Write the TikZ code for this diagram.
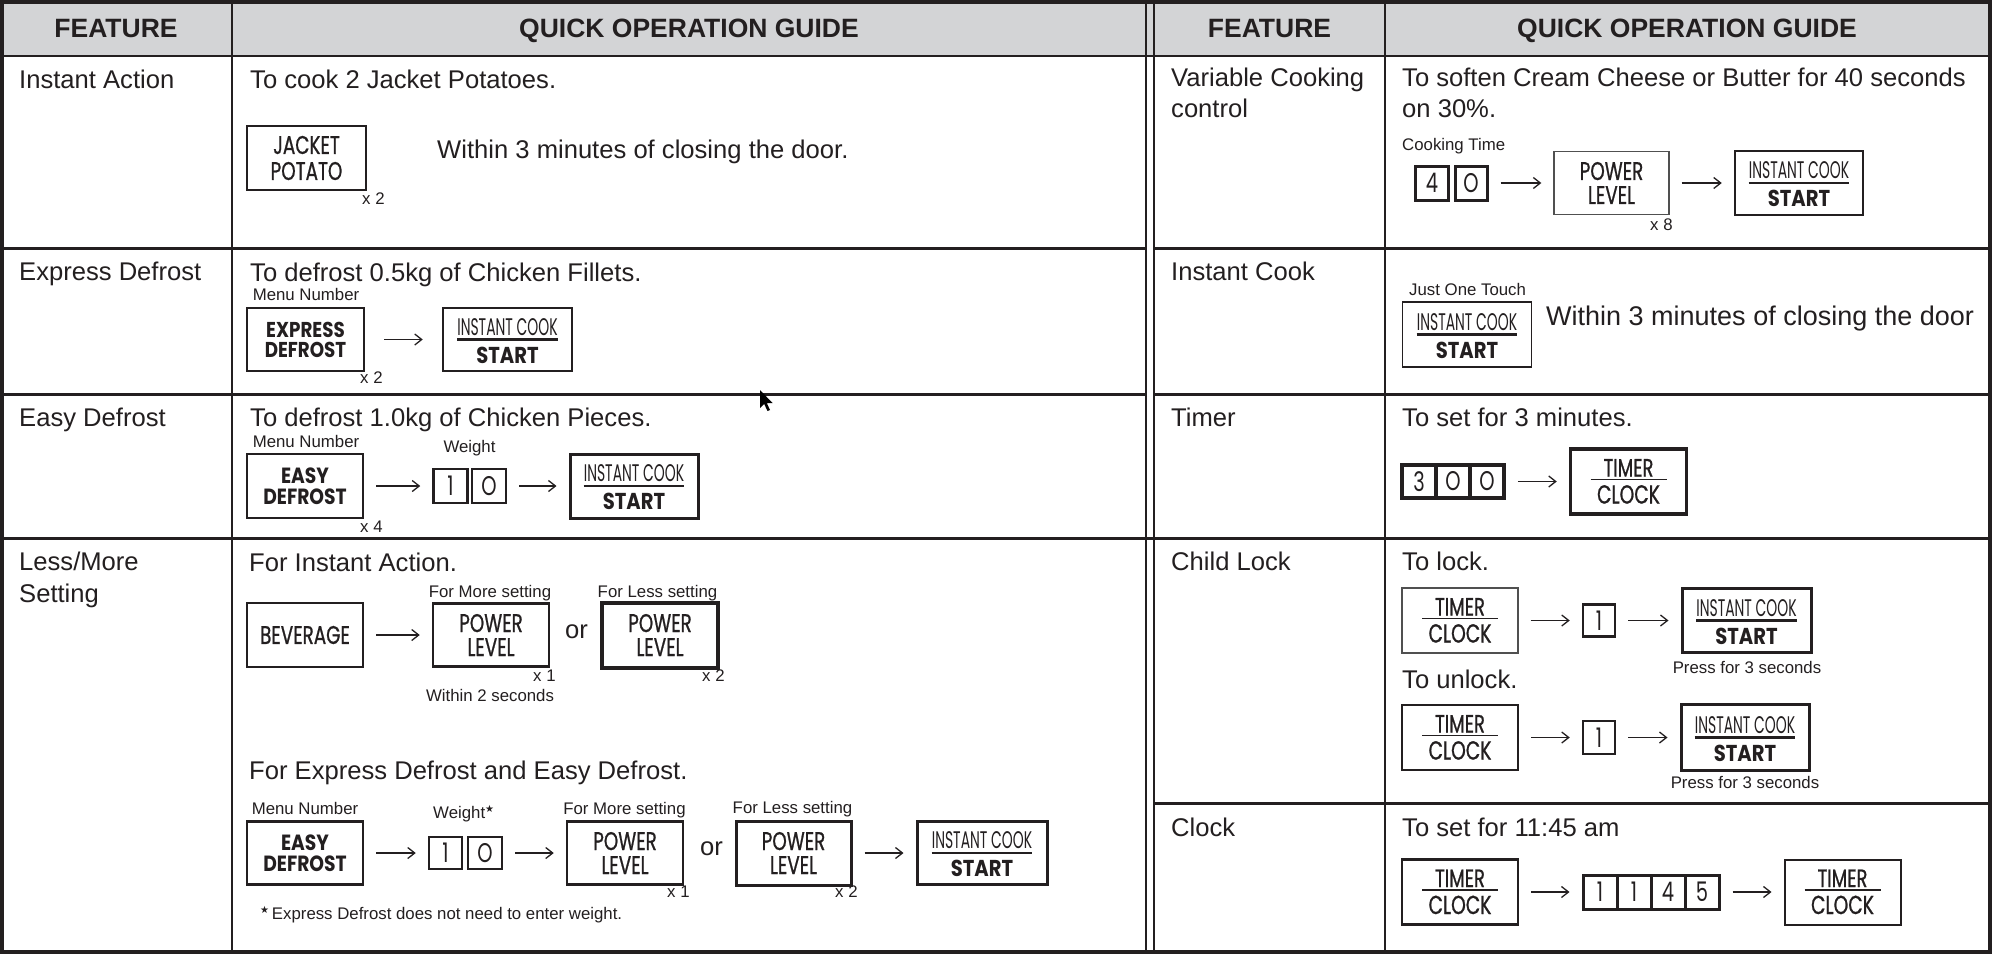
\documentclass[tikz,border=0pt]{standalone}
\usepackage{fontspec}
\setmainfont{Liberation Sans}
\newfontfamily\btnfont[FakeStretch=0.72]{Poppins}
\newfontfamily\btnmfont[FakeStretch=0.72,FakeBold=0.8]{Poppins}
\newfontfamily\btnbfont[FakeStretch=0.85]{Poppins}
\newfontfamily\icfont[FakeStretch=0.58]{Poppins}
\newfontfamily\symfont{DejaVu Sans}
\usetikzlibrary{arrows.meta,calc}
\definecolor{ink}{HTML}{231F20}
\definecolor{hdr}{HTML}{D3D4D6}
\definecolor{thinc}{HTML}{505050}
\tikzset{
 body/.style={anchor=base west, inner sep=0pt, text=ink, font=\fontsize{25.6}{30}\selectfont},
 small/.style={anchor=base, inner sep=0pt, text=ink, font=\fontsize{16.8}{19}\selectfont},
 smallw/.style={small, anchor=base west},
 head/.style={anchor=base, inner sep=0pt, text=ink, font=\fontsize{26.5}{30}\selectfont\bfseries},
 grid/.style={draw=ink, line width=2.5pt},
 box/.style={draw=ink, line width=2.5pt, inner sep=0pt, text=ink, align=center},
 sz/.style 2 args={minimum width=#1pt, minimum height=#2pt},
 reg/.style={font=\btnmfont\fontsize{25.5}{#1}\selectfont},
 bld/.style={font=\btnbfont\bfseries\fontsize{21.5}{#1}\selectfont},
 dig/.style={box, sz={34}{34}, font=\btnfont\fontsize{27}{27}\selectfont},
 arr/.style={draw=ink, line width=1.3pt, -{Straight Barb[length=7pt,width=11pt]}, shorten <=12pt, shorten >=12pt},
}
\newcommand{\icbtn}[6]{% name, x, y, line width, width, height
  \node[box, sz={#5}{#6}, line width=#4] (#1) at (#2,#3) {};
  \node[anchor=base, inner sep=0pt, text=ink, font=\icfont\fontsize{24}{24}\selectfont] (#1a) at ([yshift=4.5pt]#1.center) {INSTANT COOK};
  \node[anchor=base, inner sep=0pt, text=ink, font=\btnbfont\bfseries\fontsize{23}{23}\selectfont] (#1b) at ([yshift=-23.5pt]#1.center) {START};
  \draw[ink, line width=2.5pt] (#1a.west |- #1.center) -- (#1a.east |- #1.center);
}
\newcommand{\tcbtn}[5]{% name, x, y, line width, colour
  \node[box, sz={116}{65}, line width=#4, draw=#5] (#1) at (#2,#3) {};
  \node[anchor=base, inner sep=0pt, text=ink, font=\btnmfont\fontsize{25}{25}\selectfont] (#1a) at ([yshift=5pt]#1.center) {TIMER};
  \node[anchor=base, inner sep=0pt, text=ink, font=\btnmfont\fontsize{26}{26}\selectfont] (#1b) at ([yshift=-22pt]#1.center) {CLOCK};
  \draw[ink, line width=1.2pt] ([xshift=-38pt,yshift=2pt]#1.center) -- ([xshift=38pt,yshift=2pt]#1.center);
}
\newcommand{\sstar}{{\symfont\fontsize{10}{10}\selectfont\raisebox{6pt}{★}}}
\begin{document}
\begin{tikzpicture}[x=1pt,y=-1pt]
\useasboundingbox (0,0) rectangle (1992,954);
\fill[white] (0,0) rectangle (1992,954);
% header
\fill[hdr] (0,0) rectangle (1992,56);
\node[head] (h1) at (116,37) {FEATURE};
\node[head] (h2) at (689,37) {QUICK OPERATION GUIDE};
\node[head] (h3) at (1269.5,37) {FEATURE};
\node[head] (h4) at (1687,37) {QUICK OPERATION GUIDE};
% grid
\draw[grid] (0,56) -- (1992,56);
\draw[grid] (232,0) -- (232,954);
\draw[grid] (1146,0) -- (1146,954);
\draw[grid] (1154,0) -- (1154,954);
\draw[grid] (1385,0) -- (1385,954);
\draw[grid] (0,248.5) -- (1146,248.5);
\draw[grid] (0,394.5) -- (1146,394.5);
\draw[grid] (0,538.5) -- (1992,538.5);
\draw[grid] (1154,248.5) -- (1992,248.5);
\draw[grid] (1154,394.5) -- (1992,394.5);
\draw[grid] (1154,803.5) -- (1992,803.5);
\draw[ink, line width=4pt] (2,2) rectangle (1990,952);
% feature names
\node[body] (f1) at (19,88) {Instant Action};
\node[body] (f2) at (19,280) {Express Defrost};
\node[body] (f3) at (19,426) {Easy Defrost};
\node[body] (f4) at (19,570) {Less/More};
\node[body] (f4b) at (19,602.5) {Setting};
\node[body] (g1) at (1171,86) {Variable Cooking};
\node[body] (g1b) at (1171,117) {control};
\node[body] (g2) at (1171,280) {Instant Cook};
\node[body] (g3) at (1171,426) {Timer};
\node[body] (g4) at (1171,570) {Child Lock};
\node[body] (g5) at (1171,836) {Clock};
% ---- Instant Action
\node[body] (t1) at (250,88) {To cook 2 Jacket Potatoes.};
\node[box, sz={119}{64}, line width=2pt, reg=26] (jp) at (306.5,158) {JACKET\\POTATO};
\node[smallw] (jpx) at (362,204) {x 2};
\node[body] (t1b) at (437,158) {Within 3 minutes of closing the door.};
% ---- Express Defrost
\node[body] (t2) at (250,281) {To defrost 0.5kg of Chicken Fillets.};
\node[small] (mn1) at (306,300) {Menu Number};
\node[box, sz={117}{63}, bld=20] (ed) at (305.5,339.5) {EXPRESS\\DEFROST};
\node[smallw] (edx) at (360,383) {x 2};
\icbtn{ic1}{507.5}{339.5}{2.5pt}{129}{63}
\draw[arr, shorten <=19pt, shorten >=19pt] (ed.east) -- (ic1.west);
% ---- Easy Defrost
\node[body] (t3) at (250,426) {To defrost 1.0kg of Chicken Pieces.};
\node[small] (mn2) at (306,447) {Menu Number};
\node[small] (wt1) at (469.5,452) {Weight};
\node[box, sz={116}{64}, font=\btnbfont\bfseries\fontsize{22}{21}\selectfont] (ez) at (305,486) {EASY\\DEFROST};
\node[smallw] (ezx) at (360,532) {x 4};
\node[dig] (e1) at (450.5,486) {1};
\node[dig] (e2) at (489,486) {O};
\icbtn{ic2}{634}{486}{3pt}{128}{64}
\draw[arr] (ez.east) -- (e1.west);
\draw[arr] (e2.east) -- (ic2.west);
% ---- Less/More: instant action
\node[body] (t4) at (249,571) {For Instant Action.};
\node[box, sz={116}{64}, reg=26] (bv) at (305,635) {BEVERAGE};
\node[small] (fm1) at (490,597) {For More setting};
\node[box, sz={116}{63}, reg=24] (pl1) at (491,635) {POWER\\LEVEL};
\node[body] (or1) at (565,638) {or};
\node[small] (fl1) at (657.5,597) {For Less setting};
\node[box, sz={116}{65}, line width=4pt, reg=24] (pl2) at (660,635) {POWER\\LEVEL};
\node[smallw] (pl1x) at (533,681) {x 1};
\node[smallw] (pl2x) at (702,681) {x 2};
\node[small] (w2s) at (490,701) {Within 2 seconds};
\draw[arr] (bv.east) -- (pl1.west);
% ---- Less/More: defrost
\node[body] (t5) at (249,779) {For Express Defrost and Easy Defrost.};
\node[small] (mn3) at (305,814) {Menu Number};
\node[smallw] (wt2) at (433,818) {Weight\sstar};
\node[box, sz={116}{63}, font=\btnbfont\bfseries\fontsize{22}{21}\selectfont] (ez2) at (305,853) {EASY\\DEFROST};
\node[dig, sz={33}{32}] (k1) at (445.5,853) {1};
\node[dig, sz={34}{32}] (k2) at (485,853) {O};
\node[small] (fm2) at (624.5,814) {For More setting};
\node[box, sz={116}{63}, reg=24] (pl3) at (625,853) {POWER\\LEVEL};
\node[smallw] (pl3x) at (667,897) {x 1};
\node[body] (or2) at (700,855) {or};
\node[small] (fl2) at (792.5,813) {For Less setting};
\node[box, sz={115}{64}, line width=3pt, reg=24] (pl4) at (793.5,853) {POWER\\LEVEL};
\node[smallw] (pl4x) at (835,897) {x 2};
\icbtn{ic3}{982}{853}{3pt}{130}{63}
\draw[arr] (ez2.east) -- (k1.west);
\draw[arr] (k2.east) -- (pl3.west);
\draw[arr] (pl4.east) -- (ic3.west);
\node[smallw] (fn) at (260,919) {\sstar\,Express Defrost does not need to enter weight.};
% cursor
\fill[black] (760,390) -- (760,408) -- (764.2,404) -- (767.5,411) -- (770,410) -- (766.8,403) -- (772.5,403) -- cycle;
% ---- Variable Cooking
\node[body] (u1) at (1402,86) {To soften Cream Cheese or Butter for 40 seconds};
\node[body] (u1b) at (1402,117) {on 30\%.};
\node[smallw] (ct) at (1402,150) {Cooking Time};
\node[dig, sz={33}{34}, line width=3pt] (v1) at (1432,183) {4};
\node[dig, sz={32}{34}, line width=3pt] (v2) at (1471,183) {O};
\node[box, sz={115}{63}, line width=1.3pt, draw=thinc, reg=24] (pl5) at (1611.5,183) {POWER\\LEVEL};
\node[smallw] (pl5x) at (1650,230) {x 8};
\icbtn{ic4}{1799}{183}{2.5pt}{128}{64}
\draw[arr] (v2.east) -- (pl5.west);
\draw[arr] (pl5.east) -- (ic4.west);
% ---- Instant Cook
\node[smallw] (jot) at (1409,295) {Just One Touch};
\icbtn{ic5}{1467}{334.5}{1.3pt}{128.5}{65}
\node[body, font=\fontsize{27}{30}\selectfont] (u2) at (1546,325) {Within 3 minutes of closing the door};
% ---- Timer
\node[body] (u3) at (1402,426) {To set for 3 minutes.};
\node[dig, sz={34}{33}, line width=3.5pt] (m1) at (1419,481.5) {3};
\node[dig, sz={34}{33}, line width=3.5pt] (m2) at (1453,481.5) {O};
\node[dig, sz={34}{33}, line width=3.5pt] (m3) at (1487,481.5) {O};
\tcbtn{tc1}{1628.5}{481.5}{3.5pt}{ink}
\draw[arr] (m3.east) -- (tc1.west);
% ---- Child Lock
\node[body] (u4) at (1402,570) {To lock.};
\tcbtn{tc2}{1460}{620.5}{1.3pt}{thinc}
\node[dig, sz={32}{32}] (c1) at (1599,620.5) {1};
\icbtn{ic6}{1746.5}{620.5}{3pt}{129}{64}
\node[small] (p3a) at (1747,673.5) {Press for 3 seconds};
\draw[arr] (tc2.east) -- (c1.west);
\draw[arr] (c1.east) -- (ic6.west);
\node[body] (u5) at (1402,688.6) {To unlock.};
\tcbtn{tc3}{1460}{737.5}{2pt}{ink}
\node[dig, sz={32}{33}] (c2) at (1599,737.5) {1};
\icbtn{ic7}{1745}{737.5}{3pt}{128}{66}
\node[small] (p3b) at (1745,788.6) {Press for 3 seconds};
\draw[arr] (tc3.east) -- (c2.west);
\draw[arr] (c2.east) -- (ic7.west);
% ---- Clock
\node[body] (u6) at (1402,836) {To set for 11:45 am};
\tcbtn{tc4}{1460}{892}{2.5pt}{ink}
\node[dig, line width=3pt] (n1) at (1600,892) {1};
\node[dig, line width=3pt] (n2) at (1634,892) {1};
\node[dig, line width=3pt] (n3) at (1668,892) {4};
\node[dig, line width=3pt] (n4) at (1702,892) {5};
\tcbtn{tc5}{1842.5}{892}{2pt}{ink}
\draw[arr] (tc4.east) -- (n1.west);
\draw[arr] (n4.east) -- (tc5.west);
\end{tikzpicture}
\end{document}
